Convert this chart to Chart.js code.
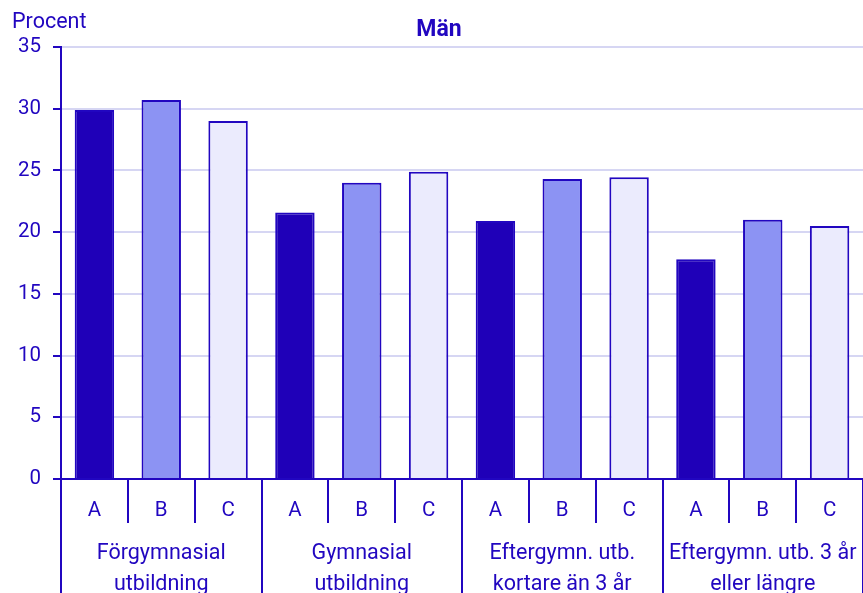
<!DOCTYPE html>
<html><head><meta charset="utf-8">
<script src="https://cdn.jsdelivr.net/npm/chart.js@4/dist/chart.umd.min.js"></script>
<style>html,body{margin:0;padding:0;background:#fff;overflow:hidden}#wrap{width:863px;height:593px;position:relative}</style>
</head><body><div id="wrap"><canvas id="c"></canvas></div>
<script>
const title = 'Män';
const yTitle = 'Procent';
const groups = [['Förgymnasial','utbildning'], ['Gymnasial','utbildning'], ['Eftergymn. utb.','kortare än 3 år'], ['Eftergymn. utb. 3 år','eller längre']];
const subLabels = ['A','B','C'];
const valuesA = [29.9, 21.6, 20.9, 17.8];
const valuesB = [30.7, 24.0, 24.3, 21.0];
const valuesC = [29.0, 24.9, 24.45, 20.5];
const yTicks = [0, 5, 10, 15, 20, 25, 30, 35];

const INK = '#2106c0';
const GRID = '#d6d6f3';
const fills = ['#1f00b8', '#8c93f3', '#ebebfd'];

const labels = [], data = [], bg = [];
groups.forEach((g, gi) => {
  [valuesA, valuesB, valuesC].forEach((arr, si) => {
    labels.push(subLabels[si]);
    data.push(arr[gi]);
    bg.push(fills[si]);
  });
});

const textPlugin = {
  id: 'texts',
  afterDraw(chart) {
    const ctx = chart.ctx;
    ctx.save();
    ctx.fillStyle = INK;
    ctx.textBaseline = 'middle';
    ctx.font = '21.5px Roboto';
    ctx.textAlign = 'left';
    ctx.fillText(yTitle, 12, 23);
    ctx.font = 'bold 23px Roboto';
    ctx.textAlign = 'center';
    ctx.fillText(title, 439, 30);
    ctx.restore();
  }
};

new Chart(document.getElementById('c'), {
  type: 'bar',
  data: { labels, datasets: [{ data, backgroundColor: bg, borderColor: INK, borderWidth: 2, barPercentage: 0.59, categoryPercentage: 1 }] },
  options: {
    responsive: true, maintainAspectRatio: false, animation: false,
    layout: { padding: { top: 47, left: 0, right: 0, bottom: 0 } },
    plugins: { legend: { display: false }, tooltip: { enabled: false } },
    scales: {
      y: {
        min: 0, max: 35,
        afterBuildTicks: s => { s.ticks = yTicks.map(v => ({ value: v })); },
        afterFit: s => { s.width = 61; },
        ticks: { color: INK, font: { family: 'Roboto', size: 20.5 }, padding: 12 },
        grid: { color: GRID, lineWidth: 2, tickColor: INK, tickLength: 8 },
        border: { color: INK, width: 2 }
      },
      x: {
        weight: 0,
        afterFit: s => { s.height = 44; },
        ticks: { color: INK, font: { family: 'Roboto', size: 20.5 }, padding: -24, maxRotation: 0, autoSkip: false },
        grid: { offset: true, drawOnChartArea: false, color: INK, tickColor: INK, lineWidth: 2, tickLength: 44 },
        border: { color: INK, width: 2 }
      },
      x2: {
        type: 'category', labels: groups, position: 'bottom', offset: true, weight: 1,
        afterFit: s => { s.height = 70; },
        ticks: { color: INK, font: { family: 'Roboto', size: 21.5, lineHeight: 1.4 }, padding: -84, maxRotation: 0, autoSkip: false },
        grid: { offset: true, drawOnChartArea: false, color: INK, tickColor: INK, lineWidth: 2, tickLength: 100 },
        border: { display: false }
      }
    }
  },
  plugins: [textPlugin]
});
</script></body></html>
